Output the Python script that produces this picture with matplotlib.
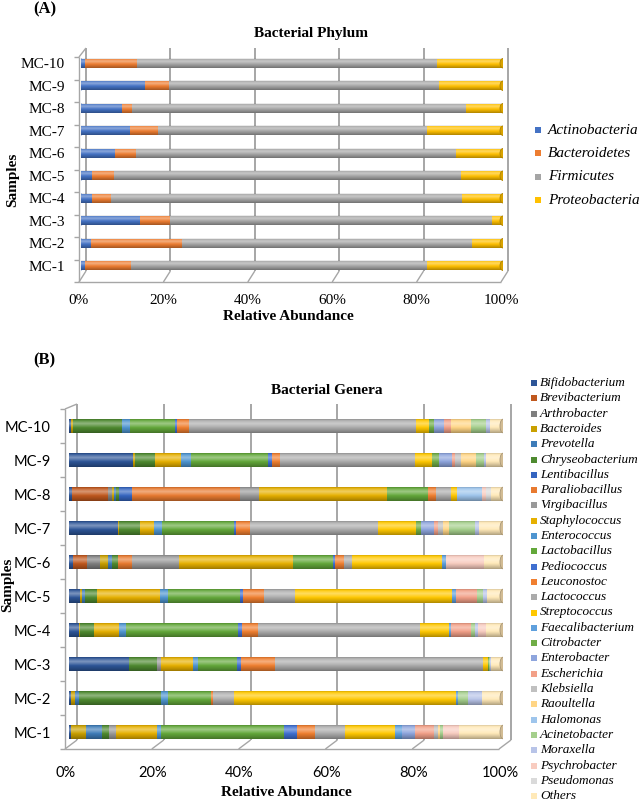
import numpy as np
import matplotlib
matplotlib.use('Agg')
import matplotlib.pyplot as plt
from matplotlib.patches import Rectangle, Ellipse
from matplotlib.lines import Line2D
from matplotlib.transforms import IdentityTransform, ScaledTranslation
import matplotlib.colors as mcolors

# ---------------- data ----------------
samples = ['MC-1', 'MC-2', 'MC-3', 'MC-4', 'MC-5', 'MC-6', 'MC-7', 'MC-8', 'MC-9', 'MC-10']
x_ticks = [0, 20, 40, 60, 80, 100]
x_ticklabels = ['0%', '20%', '40%', '60%', '80%', '100%']

phyla = ['Actinobacteria', 'Bacteroidetes', 'Firmicutes', 'Proteobacteria']
actinobacteria = [1.0, 2.4, 14.0, 2.6, 2.7, 8.1, 11.5, 9.8, 15.2, 1.0]
bacteroidetes = [10.9, 21.5, 7.1, 4.5, 5.2, 4.9, 6.7, 2.3, 5.7, 12.3]
firmicutes = [70.2, 68.7, 76.2, 83.2, 82.1, 75.8, 63.8, 79.1, 64.0, 71.0]
proteobacteria = [17.9, 7.4, 2.7, 9.7, 10.0, 11.2, 18.0, 8.8, 15.1, 15.7]
phylum_colors = ['#4472C4', '#ED7D31', '#A5A5A5', '#FFC000']

genera = ['Bifidobacterium', 'Brevibacterium', 'Arthrobacter', 'Bacteroides', 'Prevotella',
          'Chryseobacterium', 'Lentibacillus', 'Paraliobacillus', 'Virgibacillus',
          'Staphylococcus', 'Enterococcus', 'Lactobacillus', 'Pediococcus', 'Leuconostoc',
          'Lactococcus', 'Streptococcus', 'Faecalibacterium', 'Citrobacter', 'Enterobacter',
          'Escherichia', 'Klebsiella', 'Raoultella', 'Halomonas', 'Acinetobacter',
          'Moraxella', 'Psychrobacter', 'Pseudomonas', 'Others']
bifidobacterium = [0.5, 0.5, 13.8, 2.3, 2.5, 1.0, 11.4, 0.6, 14.8, 0.5]
brevibacterium = [0, 0, 0, 0, 0, 3.2, 0, 8.5, 0, 0]
arthrobacter = [0, 0, 0, 0, 0, 2.9, 0, 0.8, 0, 0]
bacteroides = [3.4, 0.8, 0, 0.3, 0.4, 1.9, 0.2, 0.6, 0.5, 0.4]
prevotella = [3.7, 1.1, 0, 0, 0.8, 0.9, 0, 0.4, 0, 0]
chryseobacterium = [1.7, 18.9, 6.6, 3.2, 2.8, 1.4, 4.8, 0.7, 4.5, 11.5]
lentibacillus = [0, 0, 0, 0, 0, 0, 0, 3.1, 0, 0]
paraliobacillus = [0, 0, 0, 0, 0, 3.2, 0, 24.8, 0, 0]
virgibacillus = [1.6, 0, 0.8, 0, 0, 11.0, 0, 4.6, 0, 0]
staphylococcus = [9.4, 0, 7.5, 5.8, 14.5, 26.2, 3.2, 29.6, 6.0, 0]
enterococcus = [1.0, 1.5, 1.0, 1.7, 1.9, 0, 1.9, 0, 2.5, 1.7]
lactobacillus = [28.6, 10.0, 9.2, 25.8, 16.7, 9.2, 16.6, 9.5, 17.7, 10.6]
pediococcus = [2.9, 0, 0.9, 1.0, 0.6, 0.5, 0.5, 0, 1.0, 0.3]
leuconostoc = [4.2, 0.5, 7.7, 3.6, 5.0, 2.2, 3.3, 1.8, 1.7, 2.8]
lactococcus = [6.8, 4.8, 48.1, 37.5, 7.0, 1.9, 29.4, 3.5, 31.3, 52.6]
streptococcus = [11.8, 51.5, 1.2, 6.7, 36.5, 20.8, 8.8, 1.4, 3.9, 3.1]
faecalibacterium = [1.5, 0.3, 0, 0.4, 0.9, 0.8, 0, 0, 0, 0]
citrobacter = [0, 0, 0.2, 0, 0, 0, 1.2, 0, 1.5, 1.2]
enterobacter = [3.1, 0, 0, 0, 0, 0, 3.1, 0, 3.1, 2.3]
escherichia = [4.4, 0, 0, 4.6, 4.9, 0, 0.8, 0, 0.6, 1.7]
klebsiella = [0.8, 0, 0, 0, 0, 0, 1.2, 0, 1.6, 0]
raoultella = [0.5, 0, 0, 0, 0, 0, 1.5, 0, 3.3, 4.6]
halomonas = [0, 0, 0, 0, 0, 0, 0, 5.8, 0, 0]
acinetobacter = [0.6, 2.5, 0.2, 1.0, 1.2, 0, 6.0, 0, 1.8, 3.5]
moraxella = [0, 3.2, 0.2, 0.8, 1.1, 0, 0.9, 0, 0.5, 0.8]
psychrobacter = [3.7, 0, 0, 1.7, 0, 8.8, 0, 0.8, 0, 0]
pseudomonas = [0, 0, 0, 0, 0, 0, 0, 1.2, 0, 0]
others = [10.3, 4.8, 2.8, 4.0, 3.6, 4.4, 5.5, 2.8, 4.0, 3.1]
genus_colors = ['#2D5597', '#C0581E', '#7F7F7F', '#C9A000', '#3E7CB8',
                '#4E8A30', '#3565C0', '#E87A30', '#999999',
                '#E6B000', '#4E95D0', '#63A83A', '#3F6FD0', '#F07F30',
                '#ABABAB', '#FFC800', '#5FA0DD', '#70AD47', '#8EA5DD',
                '#F2A088', '#C0C0C0', '#FFD585', '#9EC5EC', '#A5CF8C',
                '#B8C4E8', '#F8CCC0', '#DADADA', '#FFE9B8']

phylum_table = np.array([actinobacteria, bacteroidetes, firmicutes, proteobacteria], float)
genus_table = np.array([bifidobacterium, brevibacterium, arthrobacter, bacteroides, prevotella,
                        chryseobacterium, lentibacillus, paraliobacillus, virgibacillus,
                        staphylococcus, enterococcus, lactobacillus, pediococcus, leuconostoc,
                        lactococcus, streptococcus, faecalibacterium, citrobacter, enterobacter,
                        escherichia, klebsiella, raoultella, halomonas, acinetobacter,
                        moraxella, psychrobacter, pseudomonas, others], float)

# ---------------- figure ----------------
W, H = 644, 802
fig = plt.figure(figsize=(W / 100, H / 100), dpi=100)
SERIF = ['Liberation Serif', 'DejaVu Serif']
SANS = ['Lato', 'DejaVu Sans']


def fpos(x, y):
    return x / W, 1 - y / H


def add_axes_px(left, top, right, bottom):
    return fig.add_axes([left / W, 1 - bottom / H, (right - left) / W, (bottom - top) / H])


def shade_bar(ax, y, h):
    n = 64
    t = np.linspace(0, 1, n)
    rgba = np.zeros((n, 1, 4))
    white = 0.38 * np.clip(1 - np.abs(t - 0.32) / 0.3, 0, 1)
    black = 0.32 * np.clip((t - 0.55) / 0.45, 0, 1) ** 1.3 + 0.15 * np.clip(1 - t / 0.12, 0, 1)
    rgba[:, 0, :3] = np.where(white[:, None] > black[:, None], 1.0, 0.0)
    rgba[:, 0, 3] = np.maximum(white, black)
    ax.imshow(rgba, extent=(0, 100, y - h / 2, y + h / 2), origin='upper',
              aspect='auto', zorder=3, interpolation='bilinear')


def stacked(ax, table, colors, h, cap_color):
    ys = np.arange(len(samples))
    totals = table.sum(axis=0)
    pct = table / totals * 100
    left = np.zeros(len(samples))
    for k in range(table.shape[0]):
        ax.barh(ys, pct[k], left=left, height=h, color=colors[k], zorder=2, linewidth=0)
        left += pct[k]
    pxw = ax.transData.transform((1, 0))[0] - ax.transData.transform((0, 0))[0]
    for i, y in enumerate(ys):
        shade_bar(ax, y, h)
        first = next(k for k in range(table.shape[0]) if table[k, i] > 0)
        ax.add_patch(Ellipse((0, y), 5 / pxw, h, facecolor=colors[first], edgecolor='none', zorder=1.9))
        ax.add_patch(Ellipse((left[i], y), 6 / pxw, h, facecolor=cap_color,
                             edgecolor=mcolors.to_hex(np.array(mcolors.to_rgb(cap_color)) * 0.8),
                             linewidth=0.6, zorder=4))


def px_line(ax, xs, ys, color, lw=1.0, z=0.5):
    ax.add_line(Line2D(xs, ys, transform=IdentityTransform(), color=color, lw=lw,
                       clip_on=False, zorder=z, solid_capstyle='butt'))


def frame3d(ax, dx, dy, fdx, fdy, top_extra):
    T = ax.transData
    grid_c = '#8E8E8E'
    axis_c = '#A6A6A6'
    for t in x_ticks:
        xb, yb = T.transform((t, -0.5))
        xt, yt = T.transform((t, 9.5))
        px_line(ax, [xb + dx, xt + dx], [yb + dy, yt + top_extra], grid_c, 1.1)
        px_line(ax, [xb + fdx, xb + dx], [yb + fdy, yb + dy], axis_c, 1.0)
    x0, y0 = T.transform((0, -0.5))
    x1, _ = T.transform((100, -0.5))
    _, ytop = T.transform((0, 9.5))
    px_line(ax, [x0 + fdx, x1 + fdx], [y0 + fdy, y0 + fdy], axis_c, 1.0)
    px_line(ax, [x0 + fdx, x0 + fdx], [y0 + fdy, ytop + fdy], axis_c, 1.0)
    px_line(ax, [x0 + fdx, x0 + dx], [ytop + fdy, ytop + top_extra], axis_c, 1.0)
    for k in range(len(samples) + 1):
        yk = T.transform((0, k - 0.5))[1]
        px_line(ax, [x0 + fdx - 5, x0 + fdx], [yk + fdy, yk + fdy], axis_c, 1.0)


def setup_axis(ax, tick_font, tick_size, label_dx, ypad):
    ax.set_xlim(0, 100)
    ax.set_ylim(-0.5, len(samples) - 0.5)
    ax.set_facecolor('none')
    for s in ax.spines.values():
        s.set_visible(False)
    ax.set_yticks(range(len(samples)))
    ax.set_yticklabels(samples, fontfamily=tick_font, fontsize=tick_size)
    ax.set_xticks(x_ticks)
    ax.set_xticklabels(x_ticklabels, fontfamily=tick_font, fontsize=tick_size)
    ax.tick_params(axis='both', length=0, colors='black')
    ax.tick_params(axis='y', pad=ypad)
    ax.tick_params(axis='x', pad=12)
    off = ScaledTranslation(label_dx / 100, 0, fig.dpi_scale_trans)
    for lab in ax.get_xticklabels():
        lab.set_transform(lab.get_transform() + off)


# ---------------- panel A ----------------
axA = add_axes_px(81, 52, 503, 277)
setup_axis(axA, SERIF, 11, -2, 11.5)
stacked(axA, phylum_table, phylum_colors, 0.42, '#D9A300')
frame3d(axA, 5, 6, -2, -5, 4)

fig.text(*fpos(33, 1), '(A)', fontfamily=SERIF, fontsize=12, fontweight='bold', ha='left', va='top')
fig.text(*fpos(311, 33), 'Bacterial Phylum', fontfamily=SERIF, fontsize=11, fontweight='bold',
         ha='center', va='center')
fig.text(*fpos(288, 316), 'Relative Abundance', fontfamily=SERIF, fontsize=11, fontweight='bold',
         ha='center', va='center')
fig.text(*fpos(13, 180), 'Samples', fontfamily=SERIF, fontsize=11, fontweight='bold',
         ha='center', va='center', rotation=90)

for i, name in enumerate(phyla):
    yc = 130 + i * 23.4
    fig.patches.append(Rectangle((535 / W, 1 - (yc + 3) / H), 6 / W, 6 / H,
                                 transform=fig.transFigure, facecolor=phylum_colors[i], edgecolor='none'))
    fig.text(*fpos(548, yc), name, fontfamily=SERIF, fontsize=11, style='italic',
             ha='left', va='center')

# ---------------- panel B ----------------
axB = add_axes_px(69, 409, 503, 749)
setup_axis(axB, SANS, 10.5, -3, 13)
stacked(axB, genus_table, genus_colors, 0.4, '#D2BC94')
frame3d(axB, 8, 9, -4, 0, 5)

fig.text(*fpos(33, 360), '(B)', fontfamily=SERIF, fontsize=12, fontweight='bold', ha='left', va='center')
fig.text(*fpos(327, 391), 'Bacterial Genera', fontfamily=SERIF, fontsize=11, fontweight='bold',
         ha='center', va='center')
fig.text(*fpos(286, 793), 'Relative Abundance', fontfamily=SERIF, fontsize=11, fontweight='bold',
         ha='center', va='center')
fig.text(*fpos(8, 585), 'Samples', fontfamily=SERIF, fontsize=11, fontweight='bold',
         ha='center', va='center', rotation=90)

for i, name in enumerate(genera):
    yc = 383 + i * 15.3
    fig.patches.append(Rectangle((531 / W, 1 - (yc + 3) / H), 6 / W, 6 / H,
                                 transform=fig.transFigure, facecolor=genus_colors[i], edgecolor='none'))
    fig.text(*fpos(540, yc), name, fontfamily=SERIF, fontsize=9.5, style='italic',
             ha='left', va='center')

fig.savefig('out.png', dpi=100)
